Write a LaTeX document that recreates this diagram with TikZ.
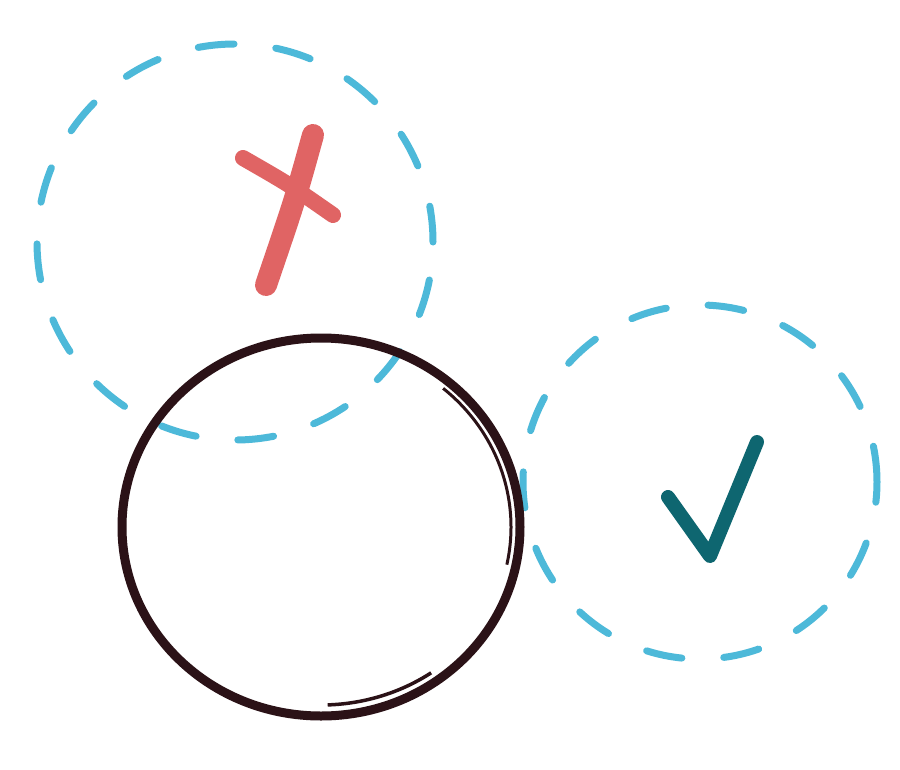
\documentclass[tikz,border=0pt]{standalone}
\begin{document}
\begin{tikzpicture}[x=1pt,y=-1pt,
  dashcirc/.style={draw=blueish, line width=7pt, dash pattern=on 36pt off 42pt, line cap=round},
  strokestyle/.style={line cap=round, line join=round}]
\definecolor{blueish}{HTML}{4DB9D9}
\definecolor{darkline}{HTML}{2B1217}
\definecolor{redx}{HTML}{E06464}
\definecolor{tealck}{HTML}{0E6670}
\useasboundingbox (0,0) rectangle (900,769);
\fill[white] (0,0) rectangle (900,769);
% top-left dashed circle
\node[circle, minimum size=396pt, dashcirc] (c1) at (235,242) {};
% right dashed circle
\node[circle, minimum size=354pt, dashcirc] (c2) at (700,482) {};
% dark circle
\coordinate (c0) at (321,527);
\draw[darkline, line width=9pt] (c0) ellipse [x radius=199, y radius=189];
\draw[darkline, line width=3pt] (c0) ++(-50:190 and 181) arc (-50:12:190 and 181);
\draw[darkline, line width=3.5pt] (c0) ++(55:192 and 178) arc (55:88:192 and 178);
% red X
\draw[redx, line width=22pt, strokestyle] (313,135) .. controls (295,200) .. (266,285);
\draw[redx, line width=16pt, strokestyle] (243,158) .. controls (290,185) .. (333,215);
% teal check
\draw[tealck, line width=14pt, strokestyle] (668,497) -- (710,556) -- (757,442);
\end{tikzpicture}
\end{document}
